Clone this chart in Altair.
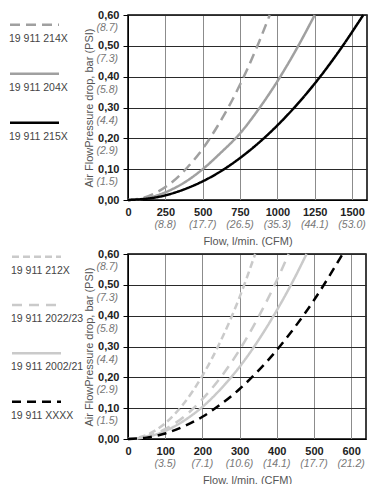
import json
import altair as alt
import pandas as pd

# ---------------- data ----------------
TOP_SERIES = ["19 911 214X", "19 911 204X", "19 911 215X"]
TOP_FLOWS = [
    [0, 100, 200, 300, 400, 500, 600, 700, 800, 880, 949],
    [0, 125, 250, 375, 500, 625, 750, 875, 1000, 1125, 1250],
    [0, 200, 400, 600, 800, 1000, 1200, 1400, 1575],
]
TOP_PRESSURES = [
    [0, 0.0067, 0.027, 0.060, 0.107, 0.166, 0.240, 0.326, 0.426, 0.516, 0.60],
    [0, 0.006, 0.025, 0.056, 0.10, 0.155, 0.216, 0.295, 0.385, 0.487, 0.60],
    [0, 0.0097, 0.039, 0.087, 0.155, 0.242, 0.348, 0.474, 0.60],
]
TOP_X_TICKS = [0, 250, 500, 750, 1000, 1250, 1500]
TOP_X_CFM = ["", "(8.8)", "(17.7)", "(26.5)", "(35.3)", "(44.1)", "(53.0)"]
TOP_X_MAX = 1600

BOT_SERIES = ["19 911 212X", "19 911 2022/23", "19 911 2002/21", "19 911 XXXX"]
BOT_FLOWS = [
    [0, 50, 100, 150, 200, 250, 300, 342],
    [0, 50, 100, 150, 200, 250, 300, 350, 400, 432],
    [0, 50, 100, 150, 200, 250, 300, 350, 400, 450, 480],
    [0, 50, 100, 150, 200, 250, 300, 350, 400, 450, 500, 577],
]
BOT_PRESSURES = [
    [0, 0.013, 0.051, 0.115, 0.205, 0.32, 0.46, 0.60],
    [0, 0.008, 0.032, 0.072, 0.129, 0.201, 0.289, 0.394, 0.514, 0.60],
    [0, 0.0065, 0.026, 0.059, 0.104, 0.163, 0.234, 0.319, 0.417, 0.527, 0.60],
    [0, 0.0045, 0.018, 0.041, 0.072, 0.113, 0.162, 0.221, 0.288, 0.365, 0.45, 0.60],
]
BOT_X_TICKS = [0, 100, 200, 300, 400, 500, 600]
BOT_X_CFM = ["", "(3.5)", "(7.1)", "(10.6)", "(14.1)", "(17.7)", "(21.2)"]
BOT_X_MAX = 640

Y_TICKS = [0.0, 0.1, 0.2, 0.3, 0.4, 0.5, 0.6]
Y_LABELS = ["0,00", "0,10", "0,20", "0,30", "0,40", "0,50", "0,60"]
Y_PSI = ["", "(1.5)", "(2.9)", "(4.4)", "(5.8)", "(7.3)", "(8.7)"]

FONT = "Liberation Sans"


def panel(names, flows, pressures, colors, dashes, widths, x_max, x_ticks, x_cfm,
          plot_w, plot_h, legend_x, legend_range):
    rows = []
    for n, fl, pr in zip(names, flows, pressures):
        for f, p in zip(fl, pr):
            rows.append({"series": n, "flow": f, "p": p})
    df = pd.DataFrame(rows)

    xs = alt.Scale(domain=[0, x_max], nice=False, zero=True)
    ys = alt.Scale(domain=[0, 0.6], nice=False, zero=True)
    color = alt.Color("series:N", scale=alt.Scale(domain=names, range=colors), legend=None)
    dash = alt.StrokeDash("series:N", scale=alt.Scale(domain=names, range=dashes), legend=None)
    width = alt.StrokeWidth("series:N", scale=alt.Scale(domain=names, range=widths), legend=None)

    y_expr = json.dumps(Y_LABELS) + "[round(datum.value*10)]"

    lines = alt.Chart(df).mark_line(interpolate="monotone").encode(
        x=alt.X("flow:Q", scale=xs, axis=alt.Axis(
            values=x_ticks, format="d", title="Flow, l/min. (CFM)",
            labelFontWeight="bold", labelColor="#222", labelFontSize=11, labelFont=FONT,
            ticks=False, labelPadding=6, grid=True, gridColor="#8c8c8c", gridWidth=1,
            domainColor="#000", titleFont=FONT, titleFontSize=11, titleFontWeight="normal",
            titleColor="#555", titlePadding=18, labelFlush=False, labelOverlap=False)),
        y=alt.Y("p:Q", scale=ys, axis=alt.Axis(
            values=Y_TICKS, labelExpr=y_expr, title="Air FlowPressure drop, bar (PSI)",
            labelFontWeight="bold", labelColor="#222", labelFontSize=11, labelFont=FONT,
            tickSize=5, tickColor="#000", labelPadding=4, grid=True, gridColor="#2a2a2a",
            gridWidth=1, domainColor="#000", titleFont=FONT, titleFontSize=11,
            titleFontWeight="normal", titleColor="#555", titlePadding=3,
            labelOverlap=False, labelFlush=False)),
        color=color, strokeDash=dash, strokeWidth=width,
        order=alt.Order("flow:Q"),
    )

    psi_df = pd.DataFrame({"v": Y_TICKS, "t": Y_PSI})
    psi = alt.Chart(psi_df).mark_text(
        align="right", baseline="middle", dy=13, fontStyle="italic", color="#777",
        fontSize=10.5, font=FONT,
    ).encode(x=alt.value(-10), y=alt.Y("v:Q", scale=ys, axis=None), text="t:N")

    cfm_df = pd.DataFrame({"v": x_ticks, "t": x_cfm})
    cfm = alt.Chart(cfm_df).mark_text(
        align="center", baseline="middle", fontStyle="italic", color="#777",
        fontSize=10.5, font=FONT,
    ).encode(x=alt.X("v:Q", scale=xs, axis=None), y=alt.value(plot_h + 25), text="t:N")

    leg_df = pd.DataFrame({"series": names})
    ly = alt.Y("series:N", scale=alt.Scale(type="point", domain=names, range=legend_range,
                                            padding=0), axis=None)
    leg_rule = alt.Chart(leg_df).mark_rule().encode(
        x=alt.value(legend_x + 1), x2=alt.value(legend_x + 50), y=ly,
        color=color, strokeDash=dash, strokeWidth=width,
    )
    leg_text = alt.Chart(leg_df).mark_text(
        align="left", baseline="middle", dy=14, fontSize=10.5, font=FONT, color="#444",
    ).encode(x=alt.value(legend_x), y=ly, text="series:N")

    return alt.layer(lines, psi, cfm, leg_rule, leg_text).resolve_scale(
        y="independent"
    ).resolve_axis(x="independent", y="independent").properties(width=plot_w, height=plot_h)


top = panel(TOP_SERIES, TOP_FLOWS, TOP_PRESSURES,
            ["#a0a0a0", "#a0a0a0", "#000000"],
            [[10, 6], [1, 0], [1, 0]], [2.5, 2.5, 3],
            TOP_X_MAX, TOP_X_TICKS, TOP_X_CFM, 239, 185, -119, [9.7, 107.7])

bottom = panel(BOT_SERIES, BOT_FLOWS, BOT_PRESSURES,
               ["#cacaca", "#cacaca", "#cacaca", "#000000"],
               [[7, 4], [10, 7], [1, 0], [9, 6]], [2.5, 2.5, 2.5, 3],
               BOT_X_MAX, BOT_X_TICKS, BOT_X_CFM, 238, 185, -117, [2.7, 147.7])

chart = alt.vconcat(top, bottom, spacing=0).resolve_scale(
    color="independent", strokeDash="independent", strokeWidth="independent",
    x="independent",
).properties(padding=0).configure_view(
    stroke="#000", strokeWidth=1.5
)

chart.save("out.html", embed_options={"renderer": "svg", "actions": False})
